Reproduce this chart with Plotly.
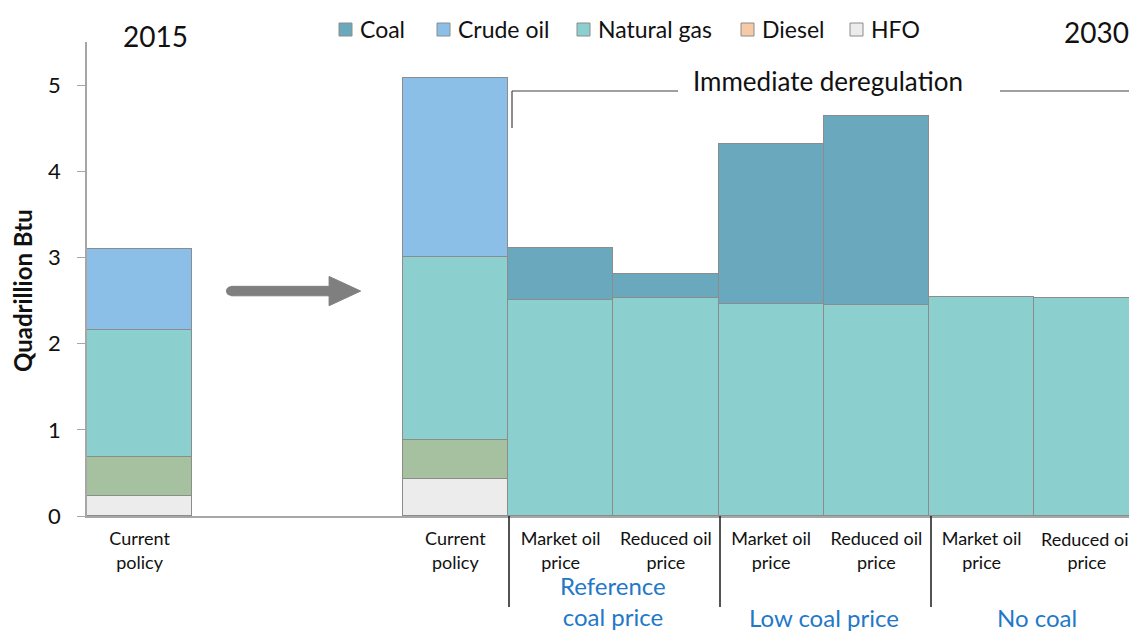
import plotly.graph_objects as go

# Bar positions on a numeric axis (slots 1 and 2 are left empty for the arrow)
bar_pos = [0, 3, 4, 5, 6, 7, 8, 9]
tick_text = ["Current<br>policy", "Current<br>policy",
             "Market oil<br>price", "Reduced oil<br>price",
             "Market oil<br>price", "Reduced oil<br>price",
             "Market oil<br>price", "Reduced oil<br>price"]

# Energy use by fuel, quadrillion Btu
hfo = [0.23, 0.43, None, None, None, None, None, None]
diesel = [0.45, 0.45, None, None, None, None, None, None]
natural_gas = [1.48, 2.12, 2.51, 2.53, 2.46, 2.45, 2.54, 2.53]
crude_oil = [0.94, 2.08, None, None, None, None, None, None]
coal = [None, None, 0.60, 0.28, 1.86, 2.19, None, None]

# name, values, bar fill, legend swatch
series = [
    ("HFO", hfo, "#ececec", "#ececec"),
    ("Diesel", diesel, "#a6c19f", "#f8c9a6"),
    ("Natural gas", natural_gas, "#8ccfcf", "#8ccfcf"),
    ("Crude oil", crude_oil, "#8bbfe8", "#8bbfe8"),
    ("Coal", coal, "#6aa9bd", "#6aa9bd"),
]
legend_names = ["Coal", "Crude oil", "Natural gas", "Diesel", "HFO"]

FONT = "Lato"
INK = "#111111"
fig = go.Figure()
for name, vals, col, _ in series:
    fig.add_trace(go.Bar(x=bar_pos, y=vals, name=name, width=1.0,
                         marker=dict(color=col, line=dict(color="#8c8c8c", width=1.5)),
                         showlegend=False, hoverinfo="y+name"))

W = 1042.0
H = 474.0
def px(x):
    return (x - 87) / W
def py(y):
    return (516 - y) / H

shapes = []
annotations = []

# legend row: swatch + label
swatch = {n: s for n, _, _, s in series}
legend_left = [339, 437, 577, 741, 850]
for name, lx in zip(legend_names, legend_left):
    shapes.append(dict(type="rect", xref="paper", yref="paper",
                       x0=px(lx), x1=px(lx + 13), y0=py(36), y1=py(23),
                       fillcolor=swatch[name], line=dict(color="#8c8c8c", width=1)))
    annotations.append(dict(text=name, x=px(lx + 19), y=py(29), xref="paper", yref="paper",
                            xanchor="left", yanchor="middle", showarrow=False,
                            font=dict(size=23, color=INK, family=FONT)))

# the right-most category label runs off the edge, so it is placed as an annotation
annotations.append(dict(text=tick_text[-1], x=bar_pos[-1], xref="x", y=py(550), yref="paper",
                        xanchor="center", yanchor="middle", showarrow=False, borderpad=0,
                        font=dict(size=18, color=INK, family=FONT)))

# arrow between the 2015 and 2030 bars
shapes.append(dict(type="path", xref="x", yref="y",
                   path="M 0.87,2.555 L 1.80,2.555 L 1.80,2.44 L 2.10,2.61 L 1.80,2.78 L 1.80,2.665 L 0.87,2.665 Z",
                   fillcolor="#7f7f7f", line=dict(color="#7f7f7f", width=1)))
shapes.append(dict(type="circle", xref="x", yref="y", x0=0.82, x1=0.92, y0=2.555, y1=2.665,
                   fillcolor="#7f7f7f", line=dict(width=0)))
# bracket over the deregulation scenarios
shapes.append(dict(type="line", xref="paper", yref="paper", x0=px(512), x1=px(678), y0=py(91), y1=py(91),
                   line=dict(color="#404040", width=1.2)))
shapes.append(dict(type="line", xref="paper", yref="paper", x0=px(512), x1=px(512), y0=py(91), y1=py(128),
                   line=dict(color="#404040", width=1.2)))
shapes.append(dict(type="line", xref="paper", yref="paper", x0=px(1000), x1=1.0, y0=py(91), y1=py(91),
                   line=dict(color="#404040", width=1.2)))
# group separators below the axis
for sx in [509, 720, 931]:
    shapes.append(dict(type="line", xref="paper", yref="paper", x0=px(sx), x1=px(sx), y0=0, y1=py(607),
                       line=dict(color="#1a1a1a", width=1.5)))

blue = "#1f78c8"
def label(text, x, y, size, color=INK, angle=0):
    annotations.append(dict(text=text, x=px(x), y=py(y), xref="paper", yref="paper",
                            xanchor="center", yanchor="middle", showarrow=False, textangle=angle,
                            borderpad=0, font=dict(size=size, color=color, family=FONT)))

label("2015", 155, 36, 28)
label("2030", 1096, 32, 28)
label("Immediate deregulation", 828, 81, 26)
label("Reference<br>coal price", 613, 601, 24, blue)
label("Low coal price", 824, 617, 24, blue)
label("No coal", 1037, 617, 24, blue)
label("<b>Quadrillion Btu</b>", 22, 291, 24, angle=-90)

fig.update_layout(
    width=1129, height=633,
    margin=dict(l=87, r=0, t=42, b=117),
    paper_bgcolor="white", plot_bgcolor="white",
    barmode="stack", bargap=0,
    font=dict(family=FONT, color=INK),
    showlegend=False,
    xaxis=dict(range=[-0.5, 9.4], tickvals=bar_pos[:-1], ticktext=tick_text[:-1], showgrid=False,
               showline=True, linecolor="#a6a6a6", linewidth=1.5, ticks="", zeroline=False,
               ticklabelstandoff=6,
               tickfont=dict(size=18, color=INK, family=FONT)),
    yaxis=dict(range=[0, 5.5], tickvals=[0, 1, 2, 3, 4, 5], showgrid=False, zeroline=False,
               showline=True, linecolor="#a6a6a6", linewidth=1.5, ticks="outside", ticklen=8,
               tickcolor="#a6a6a6", ticklabelstandoff=12,
               tickfont=dict(size=22, color=INK, family=FONT)),
    shapes=shapes, annotations=annotations,
)

fig.write_html("out.html")
